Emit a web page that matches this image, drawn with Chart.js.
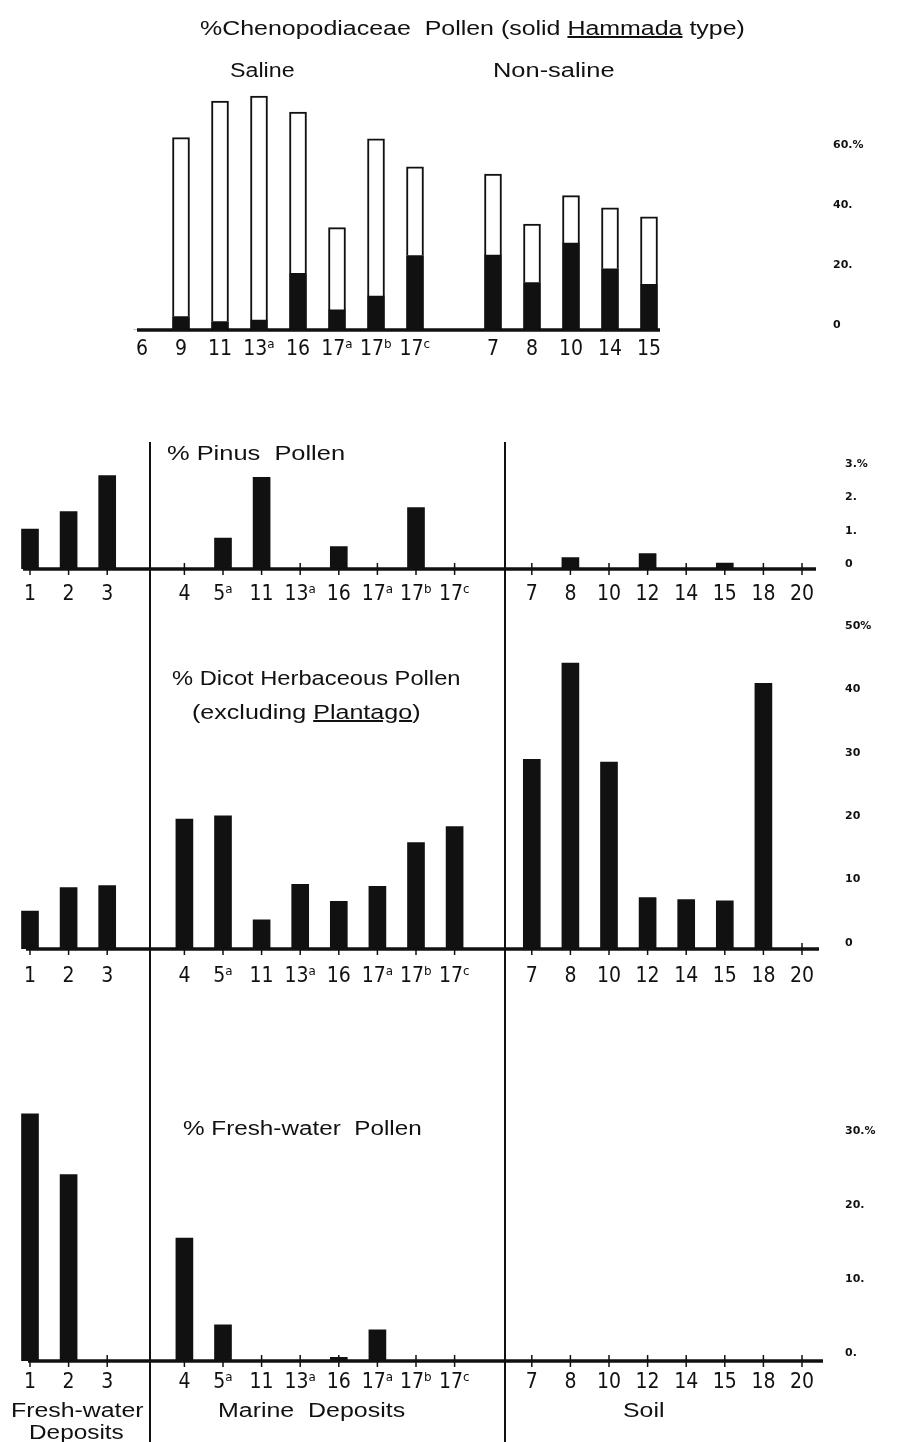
<!DOCTYPE html>
<html>
<head>
<meta charset="utf-8">
<script src="https://cdn.jsdelivr.net/npm/chart.js@4.4.1/dist/chart.umd.min.js"></script>
<style>
body { margin: 0; background: #fff; }
#page { position: relative; width: 898px; height: 1442px; overflow: hidden; font-family: 'Liberation Sans', Arial, sans-serif; color: #111; }
.box { position: absolute; left: 0; width: 898px; }
.t { position: absolute; white-space: nowrap; font-size: 20px; line-height: 1; transform-origin: 0 50%; }
</style>
</head>
<body>
<div id="page">
  <div class="box" style="top:0;height:380px"><canvas id="cheno"></canvas></div>
  <div class="box" style="top:430px;height:200px"><canvas id="pinus"></canvas></div>
  <div class="box" style="top:610px;height:400px"><canvas id="dicot"></canvas></div>
  <div class="box" style="top:1000px;height:442px"><canvas id="fresh"></canvas></div>

  <div class="t" data-w="545" style="left:200px;top:18px">%Chenopodiaceae&nbsp; Pollen (solid <u>Hammada</u> type)</div>
  <div class="t" data-w="65" style="left:230px;top:60px">Saline</div>
  <div class="t" data-w="122" style="left:493px;top:60px">Non-saline</div>
  <div class="t" data-w="178" style="left:167px;top:443px">% Pinus&nbsp; Pollen</div>
  <div class="t" data-w="288" style="left:172px;top:668px">% Dicot Herbaceous Pollen</div>
  <div class="t" data-w="228" style="left:192px;top:702px">(excluding <u>Plantago</u>)</div>
  <div class="t" data-w="239" style="left:183px;top:1118px">% Fresh-water&nbsp; Pollen</div>
  <div class="t" data-w="133" style="left:11px;top:1400px">Fresh-water</div>
  <div class="t" data-w="95" style="left:29px;top:1422px">Deposits</div>
  <div class="t" data-w="187" style="left:218px;top:1400px">Marine&nbsp; Deposits</div>
  <div class="t" data-w="41" style="left:623px;top:1400px">Soil</div>
</div>
<script>
// top panel: saline / non-saline sites
const chenoLabels = ['6', '9', '11', '13ᵃ', '16', '17ᵃ', '17ᵇ', '17ᶜ', '', '7', '8', '10', '14', '15'];
const chenoTotal = [0, 64.1, 76.3, 78.0, 72.6, 34.1, 63.7, 54.4, null, 52.0, 35.3, 44.8, 40.7, 37.7];
const hammadaSolid = [0, 4.5, 2.8, 3.3, 18.9, 6.7, 11.3, 24.8, null, 25.0, 15.8, 29.0, 20.4, 15.2];
const chenoTicks = ['0', '20.', '40.', '60.%'];

// lower panels: fresh-water deposits / marine deposits / soil
const siteLabels = ['1', '2', '3', '', '4', '5ᵃ', '11', '13ᵃ', '16', '17ᵃ', '17ᵇ', '17ᶜ', '', '7', '8', '10', '12', '14', '15', '18', '20'];
const pinus = [1.2, 1.72, 2.8, null, 0, 0.93, 2.75, 0, 0.67, 0, 1.84, 0, null, 0, 0.34, 0, 0.46, 0, 0.18, 0, 0];
const pinusTicks = ['0', '1.', '2.', '3.%'];
const dicot = [6.0, 9.7, 10.0, null, 20.5, 21.0, 4.6, 10.2, 7.5, 9.9, 16.8, 19.3, null, 29.9, 45.1, 29.5, 8.1, 7.8, 7.6, 41.9, 0];
const dicotTicks = ['0', '10', '20', '30', '40', '50%'];
const freshWater = [33.4, 25.2, 0, null, 16.6, 4.9, 0, 0, 0.5, 4.2, 0, 0, null, 0, 0, 0, 0, 0, 0, 0, 0];
const freshTicks = ['0.', '10.', '20.', '30.%'];

const INK = '#111';
Chart.defaults.color = INK;
Chart.defaults.animation = false;

// thick hand-drawn style baseline, tick marks and the group dividers
const baselinePlugin = {
    id: 'baseline',
    afterDatasetsDraw(chart, args, o) {
        const { ctx, scales: { x, y } } = chart;
        const n = chart.data.labels.length;
        const y0 = y.getPixelForValue(0);
        const step = x.getPixelForTick(1) - x.getPixelForTick(0);
        ctx.save();
        ctx.strokeStyle = INK;
        ctx.lineWidth = 3.5;
        ctx.beginPath();
        ctx.moveTo(x.getPixelForTick(0) - o.padStart, y0);
        ctx.lineTo(x.getPixelForTick(n - 1) + o.padEnd, y0);
        ctx.stroke();
        if (o.ticks) {
            ctx.lineWidth = 1.5;
            chart.data.labels.forEach((l, i) => {
                if (!l) return;
                const px = x.getPixelForTick(i);
                ctx.beginPath();
                ctx.moveTo(px, y0 - 6);
                ctx.lineTo(px, y0 + 6);
                ctx.stroke();
            });
        }
        // dividers run through all three lower panels, so keep them on whole pixels
        (o.dividers || []).forEach(d => {
            const px = Math.round(x.getPixelForTick(d.at) + d.shift * step);
            ctx.lineWidth = 2;
            ctx.beginPath();
            ctx.moveTo(px, o.dividerTop || 0);
            ctx.lineTo(px, chart.height);
            ctx.stroke();
        });
        ctx.restore();
    }
};

function makeChart(id, labels, datasets, cfg) {
    return new Chart(document.getElementById(id), {
        type: 'bar',
        data: { labels, datasets },
        plugins: [baselinePlugin],
        options: {
            responsive: true,
            maintainAspectRatio: false,
            layout: { padding: { left: cfg.left, top: cfg.top, right: 0, bottom: 0 } },
            plugins: {
                legend: { display: false },
                tooltip: { enabled: false },
                baseline: cfg.baseline
            },
            scales: {
                x: {
                    stacked: true,
                    grid: { display: false, drawTicks: false },
                    border: { display: false },
                    afterFit(s) {
                        s.height = cfg.xHeight;
                        s.paddingLeft = 0;
                        s.paddingRight = 0;
                    },
                    ticks: {
                        autoSkip: false,
                        maxRotation: 0,
                        padding: cfg.labelPad,
                        font: { family: "'Liberation Sans Narrow', 'DejaVu Sans Condensed', sans-serif", size: 21 }
                    }
                },
                y: {
                    stacked: true,
                    position: 'right',
                    min: 0,
                    max: cfg.max,
                    grid: { display: false, drawTicks: false },
                    border: { display: false },
                    // the labels sit far out to the right; keep their padding from shrinking the plot
                    afterFit(s) {
                        s.width = cfg.yWidth;
                        s.paddingTop = 0;
                        s.paddingBottom = 0;
                    },
                    ticks: {
                        stepSize: cfg.step,
                        padding: cfg.tickPad,
                        labelOffset: cfg.labelOffset,
                        font: { family: "'DejaVu Sans', sans-serif", size: 11, weight: 'bold' },
                        callback: (v, i) => cfg.tickText[i]
                    }
                }
            }
        }
    });
}

const chenoRest = chenoTotal.map((t, i) => t == null ? null : t - hammadaSolid[i]);

makeChart('cheno', chenoLabels, [
    { label: 'solid Hammada type', data: hammadaSolid, backgroundColor: INK, barThickness: 17 },
    { label: 'other Chenopodiaceae', data: chenoRest, backgroundColor: '#fff', borderColor: INK, borderWidth: 2, barThickness: 17 }
], {
    left: 122.5, top: 90, xHeight: 50, yWidth: 229.5, max: 80, step: 20,
    tickPad: 164.5, labelOffset: -5, labelPad: 7, tickText: chenoTicks,
    baseline: { padStart: 5, padEnd: 11, ticks: false }
});

const groupDividers = [{ at: 3, shift: 0.1 }, { at: 12, shift: 0.3 }];
const lowerBase = { left: 10.7, yWidth: 76.7, tickPad: 23.7 };

makeChart('pinus', siteLabels, [
    { label: '% Pinus Pollen', data: pinus, backgroundColor: INK, barThickness: 17 }
], Object.assign({}, lowerBase, {
    top: 39, xHeight: 61, max: 3, step: 1, labelOffset: -5, labelPad: 13, tickText: pinusTicks,
    baseline: { padStart: 7, padEnd: 14, ticks: true, dividers: groupDividers, dividerTop: 12 }
}));

makeChart('dicot', siteLabels, [
    { label: '% Dicot Herbaceous Pollen', data: dicot, backgroundColor: INK, barThickness: 17 }
], Object.assign({}, lowerBase, {
    top: 22, xHeight: 61, max: 50, step: 10, labelOffset: -6, labelPad: 15, tickText: dicotTicks,
    baseline: { padStart: 4, padEnd: 17, ticks: true, dividers: groupDividers }
}));

makeChart('fresh', siteLabels, [
    { label: '% Fresh-water Pollen', data: freshWater, backgroundColor: INK, barThickness: 17 }
], Object.assign({}, lowerBase, {
    top: 65, xHeight: 81, max: 40, step: 10, labelOffset: -8, labelPad: 9, tickText: freshTicks,
    baseline: { padStart: 2, padEnd: 21, ticks: true, dividers: groupDividers }
}));

// squeeze the captions to the widths they have in the figure
document.querySelectorAll('.t').forEach(el => {
    const w = +el.dataset.w;
    el.style.transform = 'scaleX(' + (w / el.offsetWidth).toFixed(3) + ')';
});
</script>
</body>
</html>
